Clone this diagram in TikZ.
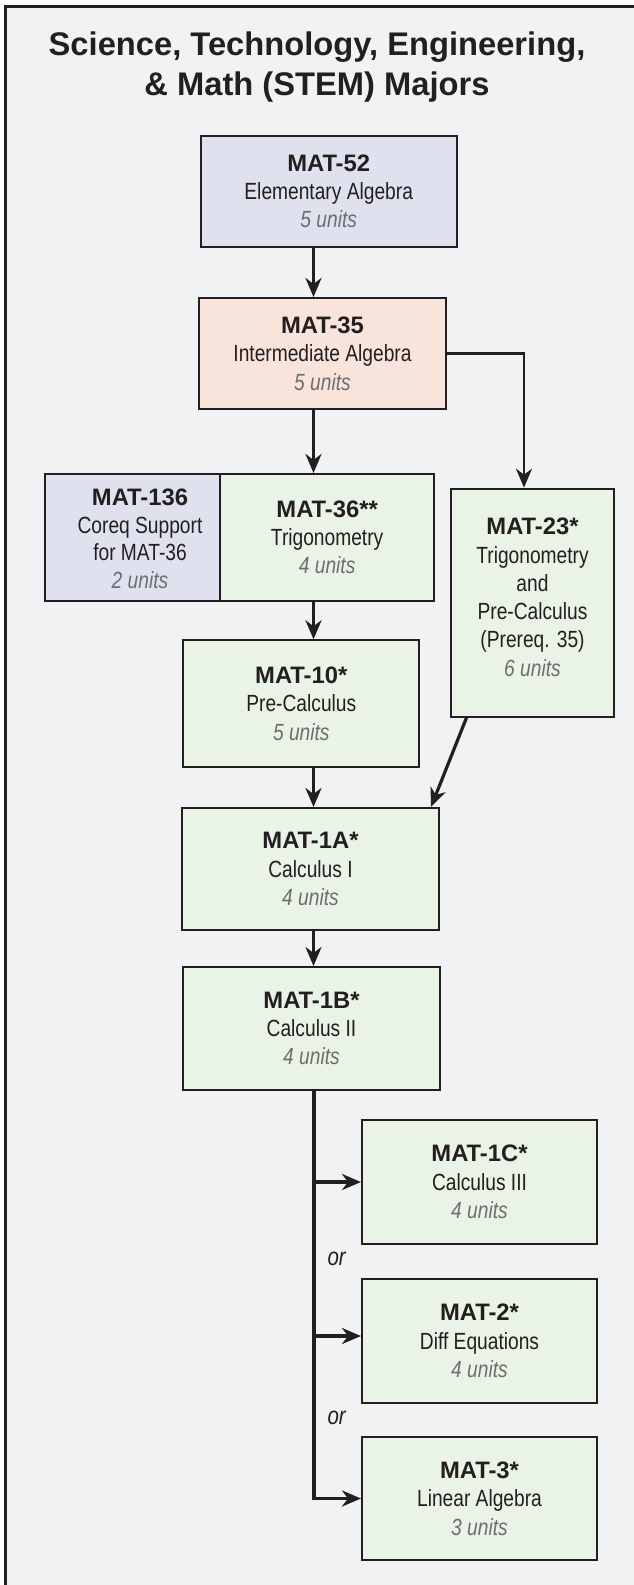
\documentclass[tikz,border=0pt]{standalone}
\usepackage{fontspec}
\setmainfont{Liberation Sans}
\newfontfamily\narrowf[FakeStretch=0.82]{Liberation Sans}
\usetikzlibrary{arrows.meta}
\definecolor{bgc}{HTML}{F1F2F4}
\definecolor{lav}{HTML}{DFE1EE}
\definecolor{peach}{HTML}{F9E4DC}
\definecolor{grn}{HTML}{E9F3E6}
\definecolor{linec}{HTML}{231F20}
\definecolor{unitc}{HTML}{6D6E71}
\newcommand\hd[1]{{\rmfamily\bfseries\fontsize{23.8}{28.3}\selectfont #1}}
\newcommand\un[1]{{\color{unitc}\itshape #1}}
\begin{document}
\begin{tikzpicture}[x=1pt,y=-1pt,
  course/.style={draw=linec, line width=2pt, inner sep=0pt, align=center, text=linec,
    font=\narrowf\fontsize{23.4}{28.3}\selectfont},
  ctext/.style={inner sep=0pt, align=center, text=linec,
    font=\narrowf\fontsize{23.4}{28.3}\selectfont},
  conn/.style={draw=linec, line width=3.2pt, line join=miter,
    -{Stealth[length=19pt,width=16pt,inset=6pt]}},
  titlef/.style={inner sep=0pt, text=linec, font=\bfseries\fontsize{32.7}{40}\selectfont},
  orlab/.style={inner sep=0pt, text=linec, font=\narrowf\itshape\fontsize{25}{28}\selectfont}]
\useasboundingbox (0,0) rectangle (634,1585);
\fill[white] (0,0) rectangle (634,1585);
\fill[bgc] (5.3,6.7) rectangle (634,1585);
\draw[linec, line width=2.5pt] (5.3,1585) -- (5.3,6.7) -- (634,6.7);

\node[titlef, anchor=base] (t1) at (317,55) {Science, Technology, Engineering,};
\node[titlef, anchor=base] (t2) at (317,95) {\& Math (STEM) Majors};

\node[course, fill=lav, minimum width=256pt, minimum height=111.6pt] (m52) at (328.7,191.5)
  {\hd{MAT-52}\\Elementary Algebra\\\un{5 units}};
\node[course, fill=peach, minimum width=247pt, minimum height=111pt] (m35) at (322.5,353.5)
  {\hd{MAT-35}\\Intermediate Algebra\\\un{5 units}};
\node[course, fill=lav, minimum width=174.7pt, minimum height=126.7pt] (m136) at (132.65,537.35) {};
\node[ctext, font=\narrowf\fontsize{23.4}{27.5}\selectfont] (m136t) at (140,539)
  {\hd{MAT-136}\\Coreq Support\\for MAT-36\\\un{2 units}};
\node[course, fill=grn, minimum width=214.3pt, minimum height=126.7pt] (m36) at (327.15,537.35)
  {\hd{MAT-36**}\\Trigonometry\\\un{4 units}};
\node[course, fill=grn, minimum width=163.6pt, minimum height=228pt] (m23) at (532.5,602.7)
  {\hd{MAT-23*}\\Trigonometry\\and\\Pre-Calculus\\(Prereq. 35)\\\un{6 units}\vrule width 0pt depth 11pt height 0pt};
\node[course, fill=grn, minimum width=236pt, minimum height=126.4pt] (m10) at (301.3,703.5)
  {\hd{MAT-10*}\\Pre-Calculus\\\un{5 units}};
\node[course, fill=grn, minimum width=257pt, minimum height=122pt] (m1a) at (310.5,869)
  {\hd{MAT-1A*}\\Calculus I\\\un{4 units}};
\node[course, fill=grn, minimum width=257pt, minimum height=123pt] (m1b) at (311.5,1028.5)
  {\hd{MAT-1B*}\\Calculus II\\\un{4 units}};
\node[course, fill=grn, minimum width=235pt, minimum height=124pt] (m1c) at (479.5,1182)
  {\hd{MAT-1C*}\\Calculus III\\\un{4 units}};
\node[course, fill=grn, minimum width=235pt, minimum height=124pt] (m2) at (479.5,1341)
  {\hd{MAT-2*}\\Diff Equations\\\un{4 units}};
\node[course, fill=grn, minimum width=235pt, minimum height=123pt] (m3) at (479.5,1498.5)
  {\hd{MAT-3*}\\Linear Algebra\\\un{3 units}};

\node[orlab] (or1) at (336.7,1259) {or};
\node[orlab] (or2) at (336.7,1418) {or};

\coordinate (sp) at (313.5,0);
\coordinate (bx) at (314,0);
\coordinate (e23) at ([xshift=-8.5pt]m23.north);
\coordinate (s23) at ([xshift=-66pt]m23.south);
\coordinate (e1a) at ([xshift=120.5pt]m1a.north);
\coordinate (a2) at ([yshift=5pt]m2.west);

\draw[conn] (m52.south -| sp) -- (m35.north -| sp);
\draw[conn] (m35.south -| sp) -- (m36.north -| sp);
\draw[conn, line width=2.6pt] (m35.east) -| (e23);
\draw[conn] (m36.south -| sp) -- (m10.north -| sp);
\draw[conn] (m10.south -| sp) -- (m1a.north -| sp);
\draw[conn] (s23) -- (e1a);
\draw[conn] (m1a.south -| sp) -- (m1b.north -| sp);
\draw[conn] (m1b.south -| bx) |- (m3.west);
\draw[conn] (m1c.west -| bx) -- (m1c.west);
\draw[conn] (a2 -| bx) -- (a2);
\end{tikzpicture}
\end{document}
